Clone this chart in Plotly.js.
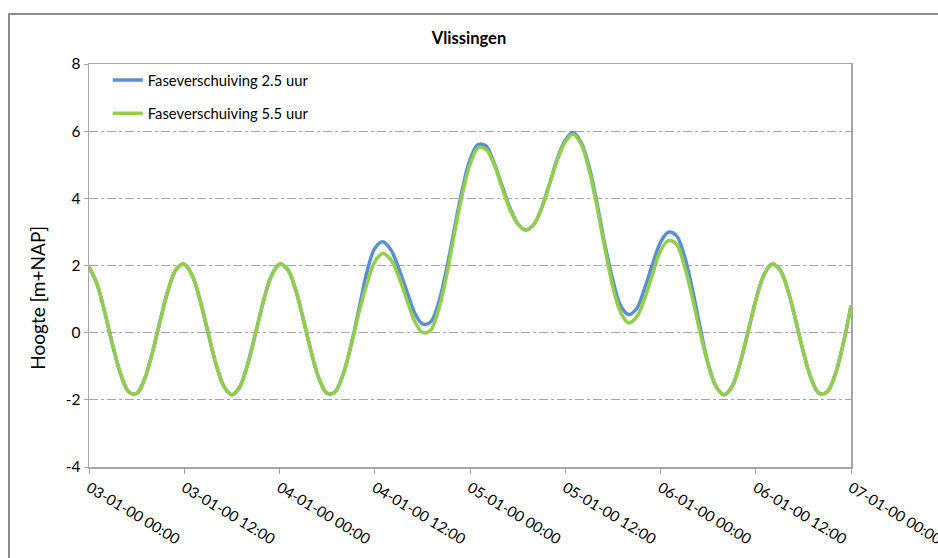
<!DOCTYPE html>
<html>
<head>
<meta charset="utf-8">
<script src="https://cdn.plot.ly/plotly-3.0.1.min.js"></script>
<style>
  html, body { margin: 0; padding: 0; background: #ffffff; }
  #wrap { position: relative; width: 938px; height: 558px; overflow: hidden; }
  #chart { width: 938px; height: 558px; }
  #frame { position: absolute; left: 8px; top: 13px; width: 1000px; height: 1000px;
           border: 2px solid #8c8c8c; box-sizing: border-box; pointer-events: none; }
</style>
</head>
<body>
<div id="wrap">
  <div id="chart"></div>
  <div id="frame"></div>
</div>
<script>
// Hourly water levels [m+NAP], starting 03-01-2000 00:00
const startTime = '2000-01-03T00:00:00';
const seriesNames = ['Faseverschuiving 2.5 uur', 'Faseverschuiving 5.5 uur'];
const phase25 = [
  1.96, 1.45, 0.59, -0.39, -1.24, -1.76, -1.81, -1.38, -0.58, 0.39,
  1.29, 1.89, 2.04, 1.70, 0.96, 0.00, -0.93, -1.60, -1.85, -1.61,
  -0.93, 0.00, 0.96, 1.70, 2.04, 1.89, 1.30, 0.40, -0.58, -1.38,
  -1.81, -1.76, -1.25, -0.39, 0.69, 1.79, 2.51, 2.71, 2.48, 1.93,
  1.26, 0.61, 0.26, 0.31, 0.85, 1.84, 3.05, 4.23, 5.15, 5.60,
  5.56, 5.08, 4.40, 3.74, 3.25, 3.06, 3.21, 3.70, 4.41, 5.18,
  5.73, 5.96, 5.66, 4.95, 3.84, 2.61, 1.56, 0.79, 0.54, 0.72,
  1.32, 2.04, 2.69, 2.99, 2.89, 2.30, 1.31, 0.15, -0.93, -1.60,
  -1.85, -1.61, -0.93, 0.00, 0.96, 1.70, 2.04, 1.89, 1.30, 0.40,
  -0.58, -1.38, -1.81, -1.76, -1.25, -0.35, 0.80
];
const phase55 = [
  1.96, 1.45, 0.59, -0.39, -1.24, -1.76, -1.81, -1.38, -0.58, 0.39,
  1.29, 1.89, 2.04, 1.70, 0.96, 0.00, -0.93, -1.60, -1.85, -1.61,
  -0.93, 0.00, 0.96, 1.70, 2.04, 1.89, 1.30, 0.40, -0.58, -1.38,
  -1.81, -1.76, -1.25, -0.39, 0.59, 1.44, 2.11, 2.36, 2.18, 1.68,
  1.01, 0.36, 0.01, 0.06, 0.65, 1.64, 2.90, 4.08, 5.00, 5.50,
  5.46, 5.03, 4.35, 3.69, 3.25, 3.06, 3.21, 3.70, 4.41, 5.13,
  5.68, 5.91, 5.61, 4.85, 3.74, 2.51, 1.36, 0.59, 0.29, 0.47,
  1.02, 1.74, 2.44, 2.74, 2.64, 2.00, 1.06, 0.00, -0.93, -1.60,
  -1.85, -1.61, -0.93, 0.00, 0.96, 1.70, 2.04, 1.89, 1.30, 0.40,
  -0.58, -1.38, -1.81, -1.76, -1.25, -0.35, 0.80
];
const yTicks = [-4, -2, 0, 2, 4, 6, 8];
const yTickText = yTicks.map(function (v) { return String(v); });

function pad(n) { return (n < 10 ? '0' : '') + n; }
const t0 = new Date(startTime + 'Z').getTime();
const times = phase25.map(function (_, i) {
  const d = new Date(t0 + i * 3600000);
  return d.getUTCFullYear() + '-' + pad(d.getUTCMonth() + 1) + '-' + pad(d.getUTCDate()) +
         ' ' + pad(d.getUTCHours()) + ':00';
});

const fontFam = 'Lato, "Open Sans", "DejaVu Sans", sans-serif';

const traces = [
  { x: times, y: phase25, name: seriesNames[0], type: 'scatter', mode: 'lines',
    legendgroup: 'a',
    line: { color: '#5a8fd4', width: 3.5, shape: 'spline', smoothing: 1 } },
  { x: times, y: phase55, name: seriesNames[1], type: 'scatter', mode: 'lines',
    legendgroup: 'b',
    line: { color: '#92cd4c', width: 3.5, shape: 'spline', smoothing: 1 } }
];

const layout = {
  width: 938, height: 558,
  margin: { l: 89, r: 87, t: 64, b: 91 },
  paper_bgcolor: '#ffffff', plot_bgcolor: '#ffffff',
  font: { family: fontFam, color: '#000000', size: 15 },
  title: { text: '<b>Vlissingen</b>', x: 0.5, xanchor: 'center', y: 0.932, yanchor: 'middle',
           font: { family: fontFam, size: 16.5, color: '#000000' } },
  showlegend: true,
  legend: { x: 0.0246, y: 1.0, xanchor: 'left', yanchor: 'top',
            bgcolor: 'rgba(0,0,0,0)', borderwidth: 0,
            traceorder: 'grouped', tracegroupgap: 11,
            font: { family: fontFam, size: 14.8, color: '#000000' } },
  annotations: [{
    text: 'Hoogte [m+NAP]', textangle: -90,
    xref: 'paper', yref: 'paper', x: -0.067, y: 0.42,
    xanchor: 'center', yanchor: 'middle', showarrow: false,
    font: { family: fontFam, size: 19, color: '#000000' }
  }],
  xaxis: {
    type: 'date',
    range: ['2000-01-03 00:00', '2000-01-07 00:00'],
    tick0: '2000-01-03 00:00', dtick: 43200000,
    tickformat: '%d-%m-%y %H:%M',
    tickangle: 31,
    ticklabeloverflow: 'allow',
    showgrid: false, zeroline: false,
    showline: true, linecolor: '#a6a6a6', linewidth: 1.5, mirror: true,
    ticks: 'outside', ticklen: 5, tickcolor: '#a6a6a6',
    tickfont: { family: fontFam, size: 15, color: '#000000' }
  },
  yaxis: {
    range: [-4, 8], tickvals: yTicks, ticktext: yTickText,
    showgrid: true, gridcolor: '#a6a6a6', griddash: 'dashdot', gridwidth: 1,
    zeroline: false,
    showline: true, linecolor: '#a6a6a6', linewidth: 1.5, mirror: true,
    ticks: 'outside', ticklen: 4, tickcolor: '#a6a6a6',
    tickfont: { family: fontFam, size: 15.5, color: '#000000' }
  }
};

Plotly.newPlot('chart', traces, layout, { displayModeBar: false, staticPlot: true });
</script>
</body>
</html>
